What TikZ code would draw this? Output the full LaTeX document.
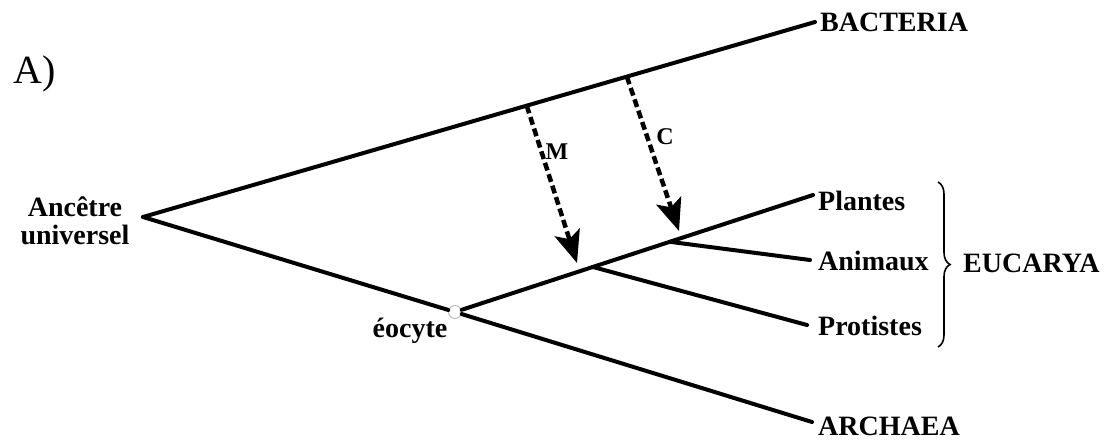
\documentclass[tikz,border=0pt]{standalone}
\usepackage{fontspec}
\setmainfont{Liberation Serif}
\usetikzlibrary{positioning,arrows.meta,calc,decorations.pathreplacing}

\begin{document}
\begin{tikzpicture}[x=1pt,y=-1pt,
  lbl/.style={font=\fontsize{28}{28}\selectfont\bfseries,inner sep=0pt,anchor=base west},
  br/.style={line width=4pt,line cap=round},
  ar/.style={-{Stealth[length=32pt,width=26pt,inset=7pt]},line width=4.5pt,dash pattern=on 8pt off 4pt},
  tag/.style={font=\fontsize{24}{24}\selectfont\bfseries,inner sep=0pt},
  eo/.style={circle,fill=white,draw=black!25,line width=1pt,minimum size=13pt,inner sep=0pt}
]
\useasboundingbox (0,0) rectangle (1119,444);

% tree ends
\coordinate (root) at (143,217);
\coordinate (bacEnd) at (815,22);
\coordinate (arcEnd) at (812,422);
\coordinate (plaEnd) at (813,195);
\coordinate (aniEnd) at (810,260);
\coordinate (proEnd) at (807,325);

\node[lbl] (bac) at (820,32) {BACTERIA};
\node[lbl] (arc) at (818,435) {ARCHAEA};
\node[lbl] (pla) at (818,210) {Plantes};
\node[lbl] (ani) at (818,270) {Animaux};
\node[lbl] (pro) at (818,335) {Protistes};
\node[lbl] (euc) at (963,272) {EUCARYA};
\node[lbl,anchor=base] (eoc) at (410,337) {éocyte};
\node[lbl,anchor=center,align=center] (anc) at (75,221) {Ancêtre\\universel};
\node[inner sep=0pt,anchor=base west,font=\fontsize{40}{40}\selectfont] (lab) at (13,83) {A)};

% branches
\node[eo] (eo) at (455,312) {};
\coordinate (mBr) at ($(eo)!0.385!(plaEnd)$);
\coordinate (cBr) at ($(eo)!0.6!(plaEnd)$);
\draw[br] (root) -- (bacEnd);
\draw[br] (root) -- (eo);
\draw[br] (eo) -- (arcEnd);
\draw[br] (eo) -- (plaEnd);
\draw[br] (mBr) -- (proEnd);
\draw[br] (cBr) -- (aniEnd);

% transfers
\coordinate (mTop) at ($(root)!0.571!(bacEnd)$);
\coordinate (cTop) at ($(root)!0.720!(bacEnd)$);
\coordinate (mTip) at (577,263);
\coordinate (cTip) at (679,231);
\draw[ar] (mTop) -- (mTip);
\draw[ar] (cTop) -- (cTip);
\node[tag] (m) at (557,152) {M};
\node[tag] (c) at (665,137) {C};

% brace
\coordinate (braTop) at (938,182);
\coordinate (braBot) at (938,347);
\draw[line width=1.6pt,decorate,decoration={brace,amplitude=12pt}] (braTop) -- (braBot);
\end{tikzpicture}
\end{document}
